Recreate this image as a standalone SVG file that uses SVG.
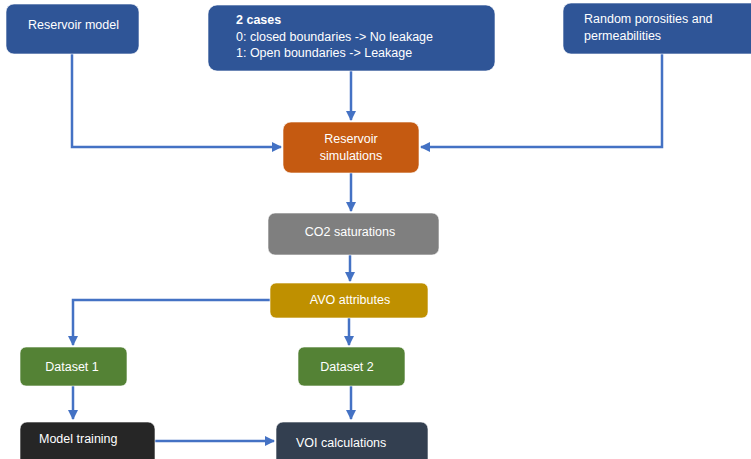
<svg xmlns="http://www.w3.org/2000/svg" width="751" height="459" viewBox="0 0 751 459">
<defs>
<style>
.n{stroke:#ffffff;stroke-width:1;stroke-opacity:0.6}
.t{font-family:"Liberation Sans",Arial,sans-serif;font-size:12.5px;fill:#ffffff}
.c{fill:none;stroke:#4472C4;stroke-width:2.5;marker-end:url(#a)}
</style>
<marker id="a" viewBox="0 0 10 10" refX="9" refY="5" markerWidth="4" markerHeight="4" orient="auto" markerUnits="strokeWidth">
<path d="M0,0L10,5L0,10z" fill="#4472C4"/>
</marker>
</defs>
<rect width="751" height="459" fill="#ffffff"/>
<g id="connectors">
<path class="c" d="M72,54V147H281"/>
<path class="c" d="M351,71V120"/>
<path class="c" d="M662,54V147H421"/>
<path class="c" d="M351,173V211"/>
<path class="c" d="M350,255V281"/>
<path class="c" d="M270,300H73V345"/>
<path class="c" d="M349,318V345"/>
<path class="c" d="M73,386V419"/>
<path class="c" d="M351,386V419"/>
<path class="c" d="M155,441H274"/>
</g>
<g id="reservoir-model">
<rect class="n" x="6" y="4" width="133" height="50" rx="8" fill="#2F5597"/>
<text class="t" x="28" y="29">Reservoir model</text>
</g>
<g id="cases">
<rect class="n" x="208" y="5" width="287" height="66" rx="9" fill="#2F5597"/>
<text class="t" x="236" y="24" font-weight="bold">2 cases</text>
<text class="t" x="236" y="41">0: closed boundaries -&gt; No leakage</text>
<text class="t" x="236" y="57">1: Open boundaries -&gt; Leakage</text>
</g>
<g id="random">
<rect class="n" x="563" y="3" width="200" height="51" rx="8" fill="#2F5597"/>
<text class="t" x="584" y="23">Random porosities and</text>
<text class="t" x="584" y="40">permeabilities</text>
</g>
<g id="reservoir-simulations">
<rect class="n" x="283" y="122" width="136" height="51" rx="8" fill="#C55A11"/>
<text class="t" x="351" y="143" text-anchor="middle">Reservoir</text>
<text class="t" x="351" y="160" text-anchor="middle">simulations</text>
</g>
<g id="co2">
<rect class="n" x="268" y="213" width="171" height="42" rx="7" fill="#7F7F7F"/>
<text class="t" x="350" y="236" text-anchor="middle">CO2 saturations</text>
</g>
<g id="avo">
<rect class="n" x="270" y="283" width="158" height="35" rx="6" fill="#BF9000"/>
<text class="t" x="350" y="304" text-anchor="middle">AVO attributes</text>
</g>
<g id="dataset1">
<rect class="n" x="20" y="347" width="107" height="39" rx="6" fill="#548235"/>
<text class="t" x="72" y="371" text-anchor="middle">Dataset 1</text>
</g>
<g id="dataset2">
<rect class="n" x="298" y="347" width="107" height="39" rx="6" fill="#548235"/>
<text class="t" x="347" y="371" text-anchor="middle">Dataset 2</text>
</g>
<g id="model-training">
<rect class="n" x="20" y="422" width="135" height="50" rx="7" fill="#262626"/>
<text class="t" x="39" y="443">Model training</text>
</g>
<g id="voi">
<rect class="n" x="276" y="422" width="152" height="50" rx="7" fill="#333F50"/>
<text class="t" x="296" y="447">VOI calculations</text>
</g>
</svg>
